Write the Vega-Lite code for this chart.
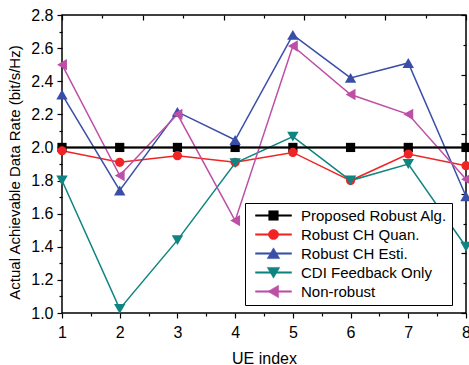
{
  "$schema": "https://vega.github.io/schema/vega-lite/v6.json",
  "width": 404,
  "height": 298,
  "autosize": {"type": "none"},
  "padding": {"left": 62, "top": 15, "right": 3, "bottom": 52},
  "background": "white",
  "config": {
    "font": "Liberation Sans",
    "view": {"stroke": "black", "strokeWidth": 1.5},
    "axis": {
      "grid": false,
      "domain": false,
      "tickColor": "black",
      "tickWidth": 1.2,
      "labelColor": "black",
      "titleColor": "black",
      "labelFont": "Liberation Sans",
      "titleFont": "Liberation Sans",
      "labelFontSize": 16,
      "titleFontSize": 15,
      "titleFontWeight": "normal",
      "labelFlush": false,
      "labelOverlap": false,
      "labelBound": false
    },
    "legend": {
      "orient": "none",
      "legendX": 183,
      "legendY": 188,
      "strokeColor": "black",
      "fillColor": "white",
      "padding": 5,
      "labelFont": "Liberation Sans",
      "labelFontSize": 15,
      "labelColor": "black",
      "symbolSize": 144,
      "symbolOffset": 16,
      "labelOffset": 20,
      "rowPadding": 3,
      "symbolOpacity": 1,
      "symbolStrokeWidth": 0.5
    }
  },
  "data": {
    "values": [
      {"ue": 1, "rate": 2.0, "series": "Proposed Robust Alg."},
      {"ue": 2, "rate": 2.0, "series": "Proposed Robust Alg."},
      {"ue": 3, "rate": 2.0, "series": "Proposed Robust Alg."},
      {"ue": 4, "rate": 2.0, "series": "Proposed Robust Alg."},
      {"ue": 5, "rate": 2.0, "series": "Proposed Robust Alg."},
      {"ue": 6, "rate": 2.0, "series": "Proposed Robust Alg."},
      {"ue": 7, "rate": 2.0, "series": "Proposed Robust Alg."},
      {"ue": 8, "rate": 2.0, "series": "Proposed Robust Alg."},
      {"ue": 1, "rate": 1.98, "series": "Robust CH Quan."},
      {"ue": 2, "rate": 1.91, "series": "Robust CH Quan."},
      {"ue": 3, "rate": 1.95, "series": "Robust CH Quan."},
      {"ue": 4, "rate": 1.91, "series": "Robust CH Quan."},
      {"ue": 5, "rate": 1.97, "series": "Robust CH Quan."},
      {"ue": 6, "rate": 1.80, "series": "Robust CH Quan."},
      {"ue": 7, "rate": 1.96, "series": "Robust CH Quan."},
      {"ue": 8, "rate": 1.89, "series": "Robust CH Quan."},
      {"ue": 1, "rate": 2.32, "series": "Robust CH Esti."},
      {"ue": 2, "rate": 1.74, "series": "Robust CH Esti."},
      {"ue": 3, "rate": 2.215, "series": "Robust CH Esti."},
      {"ue": 4, "rate": 2.045, "series": "Robust CH Esti."},
      {"ue": 5, "rate": 2.68, "series": "Robust CH Esti."},
      {"ue": 6, "rate": 2.42, "series": "Robust CH Esti."},
      {"ue": 7, "rate": 2.51, "series": "Robust CH Esti."},
      {"ue": 8, "rate": 1.705, "series": "Robust CH Esti."},
      {"ue": 1, "rate": 1.80, "series": "CDI Feedback Only"},
      {"ue": 2, "rate": 1.025, "series": "CDI Feedback Only"},
      {"ue": 3, "rate": 1.44, "series": "CDI Feedback Only"},
      {"ue": 4, "rate": 1.905, "series": "CDI Feedback Only"},
      {"ue": 5, "rate": 2.065, "series": "CDI Feedback Only"},
      {"ue": 6, "rate": 1.80, "series": "CDI Feedback Only"},
      {"ue": 7, "rate": 1.90, "series": "CDI Feedback Only"},
      {"ue": 8, "rate": 1.40, "series": "CDI Feedback Only"},
      {"ue": 1, "rate": 2.50, "series": "Non-robust"},
      {"ue": 2, "rate": 1.83, "series": "Non-robust"},
      {"ue": 3, "rate": 2.20, "series": "Non-robust"},
      {"ue": 4, "rate": 1.558, "series": "Non-robust"},
      {"ue": 5, "rate": 2.613, "series": "Non-robust"},
      {"ue": 6, "rate": 2.32, "series": "Non-robust"},
      {"ue": 7, "rate": 2.20, "series": "Non-robust"},
      {"ue": 8, "rate": 1.808, "series": "Non-robust"}
    ]
  },
  "layer": [
    {
      "mark": {"type": "line", "strokeWidth": 1.5},
      "encoding": {
        "x": {
          "field": "ue", "type": "quantitative",
          "scale": {"domain": [1, 8], "nice": false, "zero": false},
          "axis": {
            "orient": "bottom",
            "values": [1, 2, 3, 4, 5, 6, 7, 8],
            "tickSize": 5,
            "labelPadding": 6,
            "title": "UE index",
            "titleFontSize": 16,
            "titleY": 50,
            "titleBaseline": "alphabetic"
          }
        },
        "y": {
          "field": "rate", "type": "quantitative",
          "scale": {"domain": [1, 2.8], "nice": false, "zero": false},
          "axis": {
            "orient": "left",
            "values": [1.0, 1.2, 1.4, 1.6, 1.8, 2.0, 2.2, 2.4, 2.6, 2.8],
            "format": ".1f",
            "tickSize": 5,
            "labelPadding": 4,
            "title": "Actual Achievable Data Rate (bit/s/Hz)",
            "titleX": -48,
            "titleY": 157,
            "titleBaseline": "middle"
          }
        },
        "color": {
          "field": "series", "type": "nominal",
          "scale": {
            "domain": ["Proposed Robust Alg.", "Robust CH Quan.", "Robust CH Esti.", "CDI Feedback Only", "Non-robust"],
            "range": ["#000000", "#f02424", "#3a4ea8", "#0f8480", "#bd4fa6"]
          }
        }
      }
    },
    {
      "transform": [{"filter": "datum.series === 'Proposed Robust Alg.'"}],
      "mark": {"type": "line", "strokeWidth": 2},
      "encoding": {
        "x": {"field": "ue", "type": "quantitative", "axis": null},
        "y": {"field": "rate", "type": "quantitative", "axis": null},
        "color": {"field": "series", "type": "nominal"}
      }
    },
    {
      "transform": [{"filter": "datum.series === 'Proposed Robust Alg.'"}],
      "mark": {"type": "point", "filled": true, "opacity": 1, "shape": "square", "size": 85},
      "encoding": {
        "x": {
          "field": "ue", "type": "quantitative",
          "axis": {"orient": "bottom", "values": [1.5, 2.5, 3.5, 4.5, 5.5, 6.5, 7.5], "tickSize": 3, "labels": false, "title": null}
        },
        "y": {
          "field": "rate", "type": "quantitative",
          "axis": {"orient": "left", "values": [1.1, 1.3, 1.5, 1.7, 1.9, 2.1, 2.3, 2.5, 2.7], "tickSize": 3, "labels": false, "title": null}
        },
        "color": {"field": "series", "type": "nominal"}
      }
    },
    {
      "transform": [{"filter": "datum.series === 'Robust CH Quan.'"}],
      "mark": {"type": "point", "filled": true, "opacity": 1, "shape": "circle", "size": 85},
      "encoding": {
        "x": {"field": "ue", "type": "quantitative", "axis": null},
        "y": {"field": "rate", "type": "quantitative", "axis": null},
        "color": {"field": "series", "type": "nominal"}
      }
    },
    {
      "transform": [{"filter": "datum.series === 'Robust CH Esti.'"}],
      "mark": {"type": "point", "filled": true, "opacity": 1, "shape": "triangle-up", "size": 130},
      "encoding": {
        "x": {"field": "ue", "type": "quantitative", "axis": null},
        "y": {"field": "rate", "type": "quantitative", "axis": null},
        "color": {"field": "series", "type": "nominal"}
      }
    },
    {
      "transform": [{"filter": "datum.series === 'CDI Feedback Only'"}],
      "mark": {"type": "point", "filled": true, "opacity": 1, "shape": "triangle-down", "size": 130},
      "encoding": {
        "x": {"field": "ue", "type": "quantitative", "axis": null},
        "y": {"field": "rate", "type": "quantitative", "axis": null},
        "color": {"field": "series", "type": "nominal"}
      }
    },
    {
      "transform": [{"filter": "datum.series === 'Non-robust'"}],
      "mark": {"type": "point", "filled": true, "opacity": 1, "shape": "triangle-left", "size": 130},
      "encoding": {
        "x": {"field": "ue", "type": "quantitative", "axis": null},
        "y": {"field": "rate", "type": "quantitative", "axis": null},
        "color": {"field": "series", "type": "nominal"}
      }
    },
    {
      "mark": {"type": "point", "opacity": 0},
      "encoding": {
        "x": {
          "field": "ue", "type": "quantitative",
          "axis": {"orient": "top", "values": [1, 2.4, 3.8, 5.2, 6.6, 8], "tickSize": -5, "labels": false, "title": null}
        },
        "y": {
          "field": "rate", "type": "quantitative",
          "axis": {"orient": "right", "values": [1, 1.36, 1.72, 2.08, 2.44, 2.8], "tickSize": -5, "labels": false, "title": null}
        }
      }
    },
    {
      "mark": {"type": "point", "opacity": 0},
      "encoding": {
        "x": {
          "field": "ue", "type": "quantitative",
          "axis": {"orient": "top", "values": [1.7, 3.1, 4.5, 5.9, 7.3], "tickSize": -3, "labels": false, "title": null}
        },
        "y": {
          "field": "rate", "type": "quantitative",
          "axis": {"orient": "right", "values": [1.18, 1.54, 1.9, 2.26, 2.62], "tickSize": -3, "labels": false, "title": null}
        }
      }
    },
    {
      "transform": [{"filter": "datum.ue > 100"}],
      "mark": {"type": "point", "filled": true, "opacity": 1},
      "encoding": {
        "x": {"field": "ue", "type": "quantitative", "axis": null},
        "y": {"field": "rate", "type": "quantitative", "axis": null},
        "color": {"field": "series", "type": "nominal", "legend": {"title": null}},
        "shape": {
          "field": "series", "type": "nominal",
          "scale": {
            "domain": ["Proposed Robust Alg.", "Robust CH Quan.", "Robust CH Esti.", "CDI Feedback Only", "Non-robust"],
            "range": [
              "M-3,-0.125H3V0.125H-3ZM-0.8,-0.8H0.8V0.8H-0.8Z",
              "M-3,-0.125H3V0.125H-3ZM-0.85,0A0.85,0.85,0,1,1,0.85,0A0.85,0.85,0,1,1,-0.85,0Z",
              "M-3,-0.125H3V0.125H-3ZM0,-0.95L1.05,0.85L-1.05,0.85Z",
              "M-3,-0.125H3V0.125H-3ZM0,0.95L-1.05,-0.85L1.05,-0.85Z",
              "M-3,-0.125H3V0.125H-3ZM-0.95,0L0.85,-1.05L0.85,1.05Z"
            ]
          },
          "legend": {"title": null}
        }
      }
    }
  ],
  "resolve": {"axis": {"x": "independent", "y": "independent"}}
}
